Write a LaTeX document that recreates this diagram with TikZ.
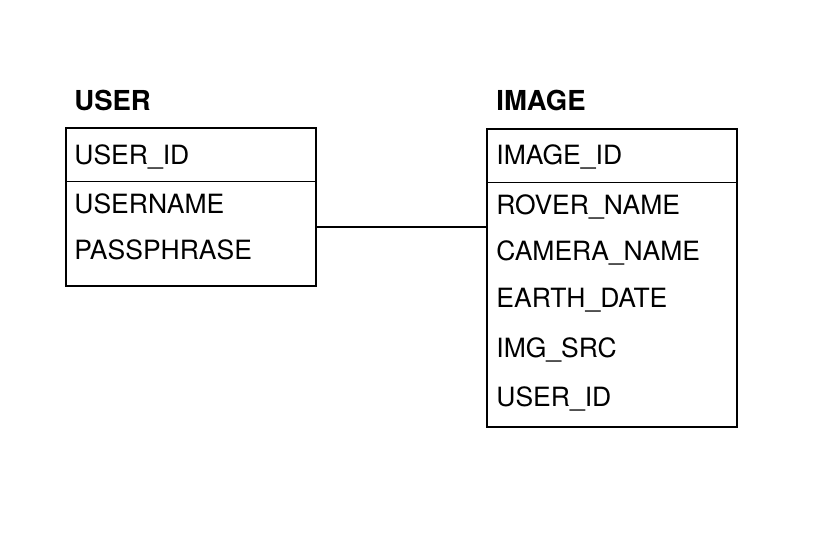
\documentclass[tikz,border=0pt]{standalone}
\usepackage{fontspec}
\setmainfont{TeX Gyre Heros}
\usetikzlibrary{positioning}

\begin{document}
\begin{tikzpicture}[
    x=1pt, y=-1pt,
    line width=1.8pt,
    entity/.style={draw, rectangle, minimum width=250pt, anchor=north west, inner sep=0pt},
    entitytitle/.style={anchor=base west, inner sep=0pt, font=\fontsize{27.5}{32}\selectfont\bfseries},
    field/.style={anchor=base west, inner sep=0pt, font=\fontsize{26.5}{31}\selectfont},
    divider/.style={line width=1pt}
]
    \useasboundingbox (0,0) rectangle (832,546);

    % Entities
    \node[entity, minimum height=158pt] (user) at (65,127) {};
    \node[entity, minimum height=298pt] (image) at (486,128) {};

    % Titles
    \node[entitytitle] (usertitle) at (73.5,110) {USER};
    \node[entitytitle] (imagetitle) at (495.5,110) {IMAGE};

    % Key dividers
    \draw[divider] ([yshift=-54pt]user.north west) -- ([yshift=-54pt]user.north east);
    \draw[divider] ([yshift=-54pt]image.north west) -- ([yshift=-54pt]image.north east);

    % User fields
    \node[field] (userid) at (73.5,164) {USER\_ID};
    \node[field] (username) at (73.5,213) {USERNAME};
    \node[field] (passphrase) at (73.5,259) {PASSPHRASE};

    % Image fields
    \node[field] (imageid) at (495.5,164) {IMAGE\_ID};
    \node[field] (rovername) at (495.5,214) {ROVER\_NAME};
    \node[field] (cameraname) at (495.5,260) {CAMERA\_NAME};
    \node[field] (earthdate) at (495.5,307) {EARTH\_DATE};
    \node[field] (imgsrc) at (495.5,357) {IMG\_SRC};
    \node[field] (imguserid) at (495.5,406) {USER\_ID};

    % Relationship
    \draw ([yshift=-20pt]user.east) -- ([yshift=-20pt]user.east -| image.west);

\end{tikzpicture}
\end{document}
